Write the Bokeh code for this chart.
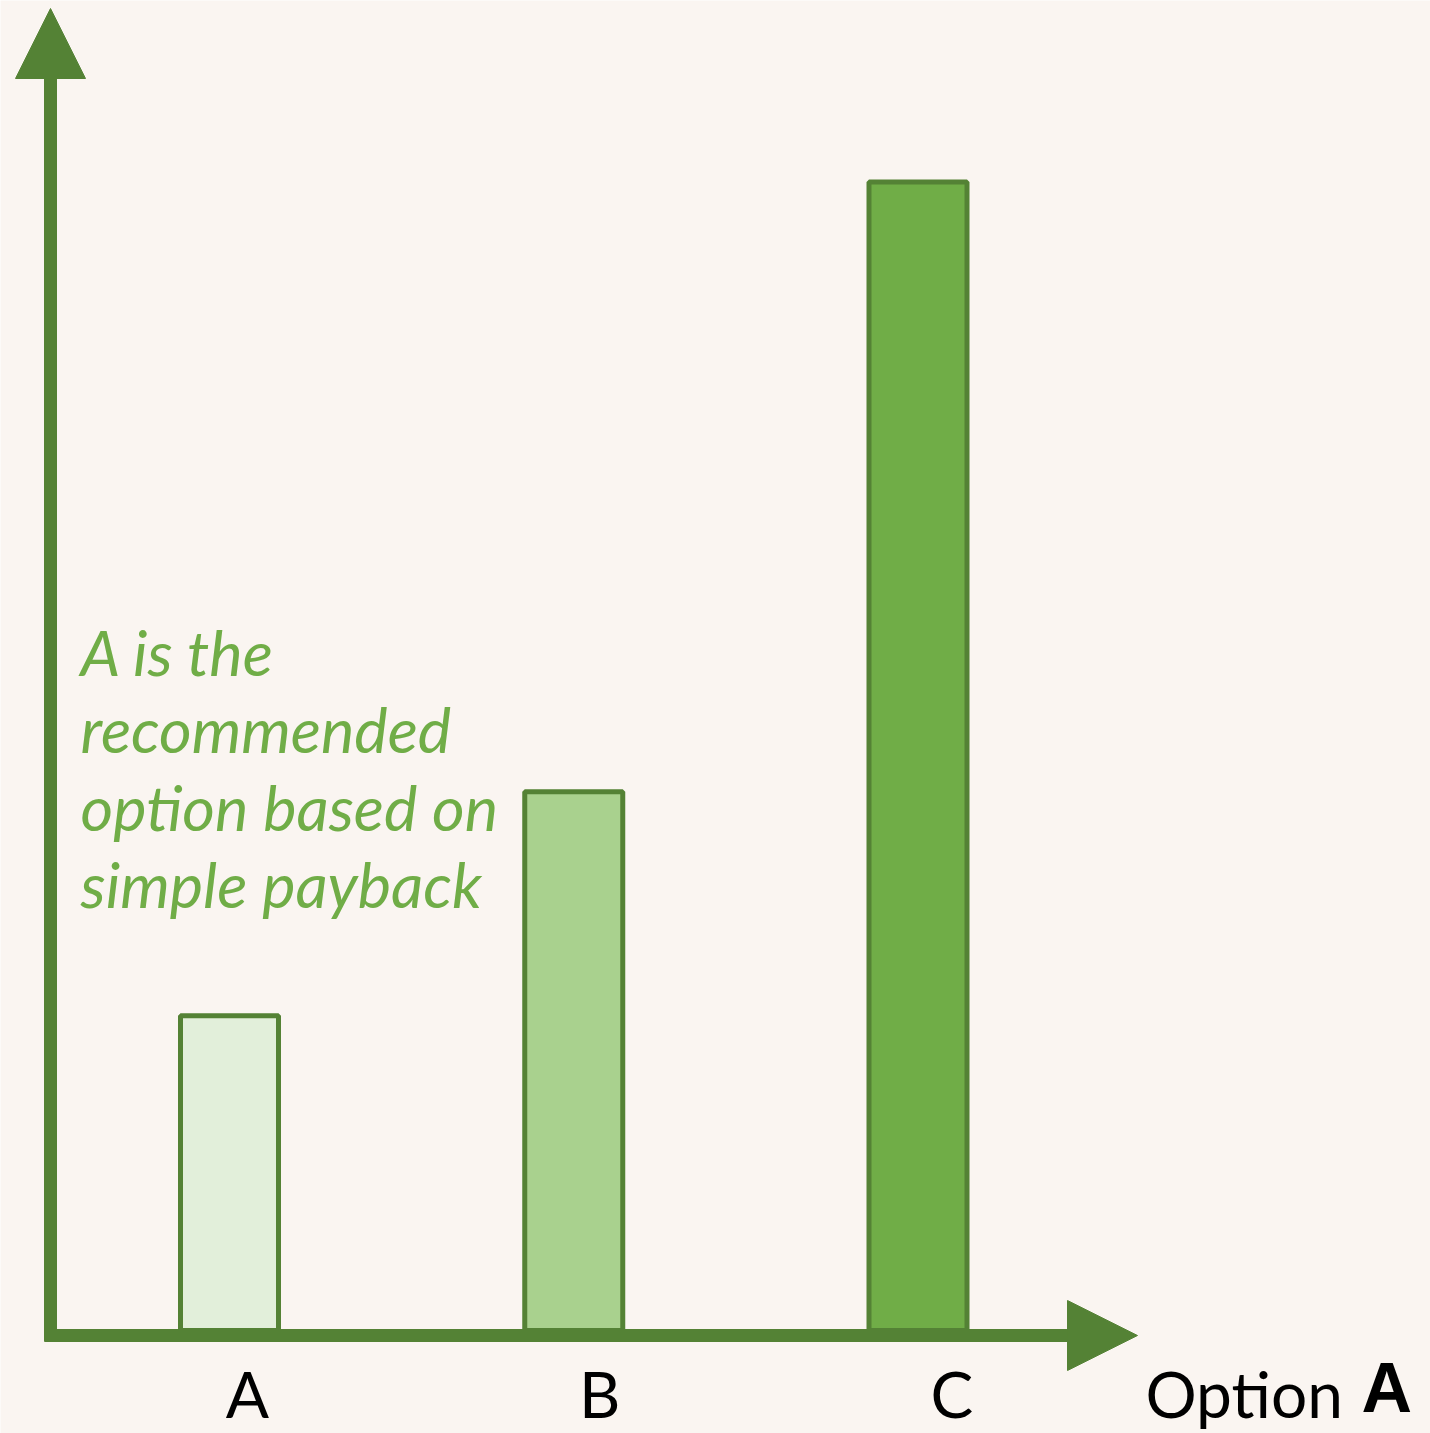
from bokeh.plotting import figure
from bokeh.models import Arrow, NormalHead, ColumnDataSource
from bokeh.core.properties import value
from bokeh.embed import file_html
from bokeh.resources import INLINE

# ---- data ----
categories = ["A", "B", "C"]
values = [27.4, 46.9, 100.0]
bar_colors = ["#E2EFDA", "#A9D18E", "#70AD47"]
label_offsets = [18, 26, 34]
note_lines = ["A is the", "recommended", "option based on", "simple payback"]
x_title = "Option"
x_title_bold = "A"

# ---- styling / geometry ----
BG = "#FAF5F1"
DARK = "#548235"
TEXT_GREEN = "#70AD47"
W, H = 1430, 1433
X0 = 229.0        # screen px of first category
DX = 344.25       # px per category
Y0 = 1330.0       # screen px of value 0
DY = 11.485       # px per value unit
BASE_FIX = 0.375  # empirical baseline correction (fraction of font size)

def px_x(X):
    return (X - X0) / DX

def px_y(Y):
    return (Y0 - Y) / DY

def base_y(Y, size):
    return px_y(Y - BASE_FIX * size)

p = figure(width=W, height=H, output_backend="svg", toolbar_location=None,
           x_range=(px_x(0), px_x(W)), y_range=(px_y(H), px_y(0)),
           min_border=0, background_fill_color=BG, border_fill_color=BG,
           outline_line_color=None)
p.axis.visible = False
p.grid.visible = False

idx = list(range(len(categories)))
src = ColumnDataSource(dict(x=idx, top=values, color=bar_colors,
                            label=categories, xo=label_offsets))

p.vbar(x="x", top="top", bottom=0, width=98 / DX, fill_color="color",
       line_color=DARK, line_width=5, source=src)

# axes as arrows
p.add_layout(Arrow(end=NormalHead(size=70, fill_color=DARK, line_color=DARK, line_width=1),
                   x_start=px_x(50), y_start=px_y(1341), x_end=px_x(50), y_end=px_y(8),
                   line_color=DARK, line_width=13))
p.add_layout(Arrow(end=NormalHead(size=70, fill_color=DARK, line_color=DARK, line_width=1),
                   x_start=px_x(44), y_start=px_y(1335), x_end=px_x(1137), y_end=px_y(1335),
                   line_color=DARK, line_width=13))

# category labels
p.text(x="x", y=base_y(1417, 64), text="label", x_offset="xo", source=src,
       text_font=value("Lato"), text_font_size="64px", text_color="black",
       text_align="center", text_baseline="alphabetic")

# axis title
p.text(x=[px_x(1145)], y=[base_y(1417, 64)], text=[x_title],
       text_font=value("Lato"), text_font_size="64px", text_color="black",
       text_align="left", text_baseline="alphabetic")
p.text(x=[px_x(1361)], y=[base_y(1414, 70)], text=[x_title_bold],
       text_font=value("Liberation Sans"), text_font_size="70px", text_font_style="bold",
       text_color="black", text_align="left", text_baseline="alphabetic")

# note
baselines = [675, 752, 830, 907]
p.text(x=[px_x(80)] * len(note_lines), y=[base_y(b, 63) for b in baselines], text=note_lines,
       text_font=value("Lato"), text_font_size="63px", text_font_style="italic",
       text_color=TEXT_GREEN, text_align="left", text_baseline="alphabetic")

open("out.html", "w").write(file_html(p, INLINE))
